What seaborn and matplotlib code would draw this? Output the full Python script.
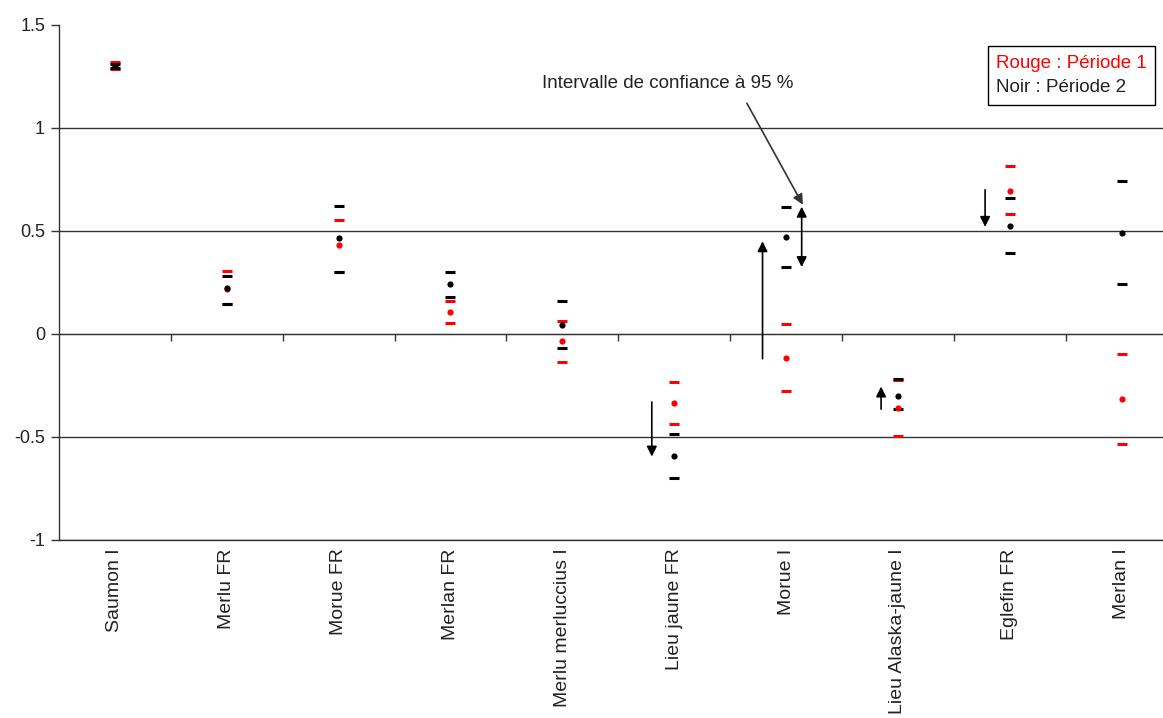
import pandas as pd
import matplotlib.pyplot as plt
import seaborn as sns
from matplotlib.lines import Line2D

# Valeurs
especes = ["Saumon I", "Merlu FR", "Morue FR", "Merlan FR", "Merlu merluccius I",
           "Lieu jaune FR", "Morue I", "Lieu Alaska-jaune I", "Eglefin FR", "Merlan I"]

# Période 1 (rouge)
p1_moy = [1.30, 0.22, 0.43, 0.107, -0.033, -0.337, -0.118, -0.36, 0.696, -0.317]
p1_bas = [1.286, 0.146, 0.30, 0.052, -0.136, -0.439, -0.275, -0.495, 0.581, -0.535]
p1_haut = [1.32, 0.307, 0.555, 0.162, 0.065, -0.231, 0.047, -0.225, 0.816, -0.099]

# Période 2 (noir)
p2_moy = [1.30, 0.223, 0.464, 0.241, 0.045, -0.591, 0.469, -0.301, 0.526, 0.489]
p2_bas = [1.292, 0.146, 0.301, 0.181, -0.070, -0.699, 0.325, -0.366, 0.392, 0.241]
p2_haut = [1.312, 0.283, 0.623, 0.301, 0.162, -0.487, 0.618, -0.22, 0.658, 0.743]

# flèches d'évolution : (espèce, départ, arrivée, décalage)
fleches = [("Lieu jaune FR", -0.33, -0.595, -0.2),
           ("Morue I", -0.12, 0.45, -0.21),
           ("Lieu Alaska-jaune I", -0.365, -0.255, -0.15),
           ("Eglefin FR", 0.70, 0.52, -0.22)]

sns.set_style("white")
plt.rcParams["font.family"] = ["Liberation Sans", "DejaVu Sans"]

df1 = pd.DataFrame({"espece": especes, "moy": p1_moy, "bas": p1_bas, "haut": p1_haut})
df2 = pd.DataFrame({"espece": especes, "moy": p2_moy, "bas": p2_bas, "haut": p2_haut})

fig = plt.figure(figsize=(11.63, 7.18), dpi=100)
ax = fig.add_axes([59 / 1163, 1 - 540 / 718, 1 - 59 / 1163, 515 / 718])

for d, col in [(df1, "red"), (df2, "black")]:
    for b in ["bas", "haut"]:
        sns.scatterplot(data=d, x="espece", y=b, marker="_", s=48, linewidth=2.2,
                        color=col, ax=ax, zorder=3)
    sns.scatterplot(data=d, x="espece", y="moy", marker="o", s=20, linewidth=0,
                    color=col, ax=ax, zorder=4)

arrow_kw = dict(arrowstyle="-|>", mutation_scale=15, lw=1.2, color="black",
                shrinkA=0, shrinkB=0)
for nom, y0, y1, dx in fleches:
    x = especes.index(nom) + dx
    ax.annotate("", xy=(x, y1), xytext=(x, y0), arrowprops=arrow_kw, zorder=5)

# double flèche sur l'intervalle de Morue I
i = especes.index("Morue I")
ax.annotate("", xy=(i + 0.14, p2_haut[i]), xytext=(i + 0.14, p2_bas[i]),
            arrowprops=dict(arrowstyle="<|-|>", mutation_scale=15, lw=1.2,
                            color="black", shrinkA=0, shrinkB=0), zorder=5)
ax.annotate("", xy=(i + 0.15, p2_haut[i] + 0.01), xytext=(i - 0.35, 1.12),
            arrowprops=dict(arrowstyle="-|>", mutation_scale=15, lw=1.2,
                            color="#333333", shrinkA=0, shrinkB=0), zorder=5)
ax.text(i - 1.06, 1.215, "Intervalle de confiance à 95 %", ha="center", va="center",
        fontsize=13.5, color="#222222")

ax.set_xlim(-0.5, -0.5 + (1163 - 59) / 111.85)
ax.set_ylim(-1, 1.5)
ax.set_yticks([-1, -0.5, 0, 0.5, 1, 1.5])
ax.set_yticklabels(["-1", "-0.5", "0", "0.5", "1", "1.5"])
ax.tick_params(axis="y", length=6, width=1, color="#333333", labelsize=13, pad=4,
               direction="out", left=True, labelcolor="#222222")
ax.tick_params(axis="x", length=0, labelsize=14, rotation=90, pad=6,
               labelcolor="#222222")
ax.set_xlabel("")
ax.set_ylabel("")

ax.yaxis.grid(True, color="#333333", lw=1)
ax.set_axisbelow(True)
ax.yaxis.get_gridlines()[-1].set_visible(False)
for s in ["top", "right"]:
    ax.spines[s].set_visible(False)
for s in ["left", "bottom"]:
    ax.spines[s].set_color("#333333")
    ax.spines[s].set_linewidth(1)

# axe des catégories à y = 0 avec graduations entre les catégories
sec = ax.secondary_xaxis(1 / 2.5)
sec.set_xticks([k + 0.5 for k in range(len(especes))])
sec.set_xticklabels([])
sec.tick_params(length=5, width=1, color="#333333", direction="out")
sec.spines["bottom"].set_color("#333333")

leg = ax.legend(handles=[Line2D([], [], ls="none"), Line2D([], [], ls="none")],
                labels=["Rouge : Période 1", "Noir : Période 2"],
                loc="upper right", bbox_to_anchor=(0.993, 0.959), borderaxespad=0,
                handlelength=0, handletextpad=0, fancybox=False, framealpha=1,
                edgecolor="black", fontsize=13.5, labelspacing=0.4,
                borderpad=0.45)
leg.get_frame().set_linewidth(1)
leg.get_texts()[0].set_color("red")
leg.get_texts()[1].set_color("#222222")

plt.savefig("out.png", dpi=100)
